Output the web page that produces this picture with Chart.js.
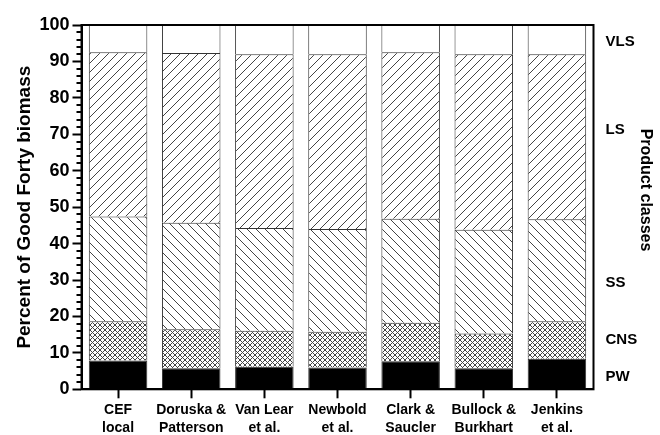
<!DOCTYPE html>
<html>
<head>
<meta charset="utf-8">
<script src="https://cdn.jsdelivr.net/npm/chart.js@4.4.0/dist/chart.umd.min.js"></script>
<style>
  html, body { margin: 0; padding: 0; background: #fff; }
  #wrap { width: 660px; height: 435px; }
</style>
</head>
<body>
<div id="wrap"><canvas id="chart" width="660" height="435"></canvas></div>
<script>
// studies (x categories)
var studies = [
  ["CEF", "local"],
  ["Doruska &", "Patterson"],
  ["Van Lear", "et al."],
  ["Newbold", "et al."],
  ["Clark &", "Saucler"],
  ["Bullock &", "Burkhart"],
  ["Jenkins", "et al."]
];

// product class shares (percent), bottom to top
var pw  = [7.9, 5.8, 6.2, 6.0, 7.7, 5.8, 8.4];
var cns = [10.8, 10.7, 9.9, 9.8, 10.6, 9.5, 10.3];
var ss  = [28.7, 29.2, 28.2, 28.2, 28.5, 28.5, 28.0];
var ls  = [45.1, 46.6, 47.7, 48.0, 45.7, 48.2, 45.3];
var vls = [7.5, 7.7, 8.0, 8.0, 7.5, 8.0, 8.0];

var classNames = ["PW", "CNS", "SS", "LS", "VLS"];
var yTicks = [0, 10, 20, 30, 40, 50, 60, 70, 80, 90, 100];

var FONT = "'Liberation Sans', Arial, sans-serif";

// make hatch patterns
function hatch(kind, gap) {
  var c = document.createElement('canvas');
  c.width = gap; c.height = gap;
  var g = c.getContext('2d');
  g.fillStyle = '#fff';
  g.fillRect(0, 0, gap, gap);
  g.strokeStyle = '#444';
  g.lineWidth = 1;
  function fwd() {
    g.beginPath();
    g.moveTo(-1, gap + 1); g.lineTo(gap + 1, -1);
    g.moveTo(-1, 1); g.lineTo(1, -1);
    g.moveTo(gap - 1, gap + 1); g.lineTo(gap + 1, gap - 1);
    g.stroke();
  }
  function back() {
    g.beginPath();
    g.moveTo(-1, -1); g.lineTo(gap + 1, gap + 1);
    g.moveTo(gap - 1, -1); g.lineTo(gap + 1, 1);
    g.moveTo(-1, gap - 1); g.lineTo(1, gap + 1);
    g.stroke();
  }
  if (kind == '/' || kind == 'x') fwd();
  if (kind == '\\' || kind == 'x') back();
  return document.getElementById('chart').getContext('2d').createPattern(c, 'repeat');
}

var fills = ['#000', hatch('x', 5), hatch('\\', 9), hatch('/', 9), '#fff'];
var series = [pw, cns, ss, ls, vls];

var datasets = [];
for (var i = 0; i < series.length; i++) {
  datasets.push({
    label: classNames[i],
    data: series[i],
    backgroundColor: fills[i],
    borderColor: '#333',
    borderWidth: 1,
    categoryPercentage: 1.0,
    barPercentage: 0.8
  });
}

// frame, minor ticks and product class labels
var extras = {
  id: 'extras',
  afterDraw: function(chart) {
    var ctx = chart.ctx;
    var a = chart.chartArea;
    var y = chart.scales.y;
    ctx.save();
    ctx.strokeStyle = '#000';
    ctx.lineWidth = 2;
    ctx.strokeRect(a.left, a.top, a.right - a.left, a.bottom - a.top);
    // minor ticks every 2
    ctx.lineWidth = 2;
    ctx.beginPath();
    for (var v = 2; v < 100; v += 2) {
      if (v % 10 == 0) continue;
      var py = Math.round(y.getPixelForValue(v));
      ctx.moveTo(a.left - 5, py);
      ctx.lineTo(a.left, py);
    }
    ctx.stroke();
    // class labels on right
    var pos = [3.4, 13.5, 29.2, 71.2, 95.4];
    ctx.fillStyle = '#000';
    ctx.font = 'bold 15px ' + FONT;
    ctx.textBaseline = 'middle';
    ctx.textAlign = 'left';
    for (var k = 0; k < classNames.length; k++) {
      ctx.fillText(classNames[k], a.right + 12, y.getPixelForValue(pos[k]));
    }
    ctx.translate(645, 190);
    ctx.rotate(Math.PI / 2);
    ctx.textAlign = 'center';
    ctx.font = 'bold 16px ' + FONT;
    ctx.fillText('Product classes', 0, 0);
    ctx.restore();
  }
};

new Chart(document.getElementById('chart'), {
  type: 'bar',
  data: { labels: studies, datasets: datasets },
  plugins: [extras],
  options: {
    responsive: false,
    animation: false,
    layout: { padding: { top: 25, right: 66.5, left: 0, bottom: 0 } },
    plugins: { legend: { display: false }, tooltip: { enabled: false } },
    scales: {
      x: {
        stacked: true,
        afterFit: function(s) { s.height = 45.7; },
        border: { display: true, color: '#000', width: 2 },
        grid: { display: true, drawOnChartArea: false, offset: false, tickLength: 9, tickWidth: 2, tickColor: '#000' },
        ticks: { color: '#000', padding: 3, maxRotation: 0, autoSkip: false, font: { family: FONT, size: 14, weight: 'bold', lineHeight: 1.3 } }
      },
      y: {
        stacked: true,
        min: 0,
        max: 100,
        afterFit: function(s) { s.width = 81.5; },
        afterBuildTicks: function(s) { s.ticks = yTicks.map(function(v) { return { value: v }; }); },
        border: { display: true, color: '#000', width: 2 },
        grid: { display: true, drawOnChartArea: false, tickLength: 9, tickWidth: 2, tickColor: '#000' },
        ticks: { color: '#000', padding: 3, font: { family: FONT, size: 18, weight: 'bold' } },
        title: {
          display: true,
          text: 'Percent of Good Forty biomass',
          color: '#000',
          padding: { top: 13, bottom: 0 },
          font: { family: FONT, size: 19, weight: 'bold' }
        }
      }
    }
  }
});
</script>
</body>
</html>
